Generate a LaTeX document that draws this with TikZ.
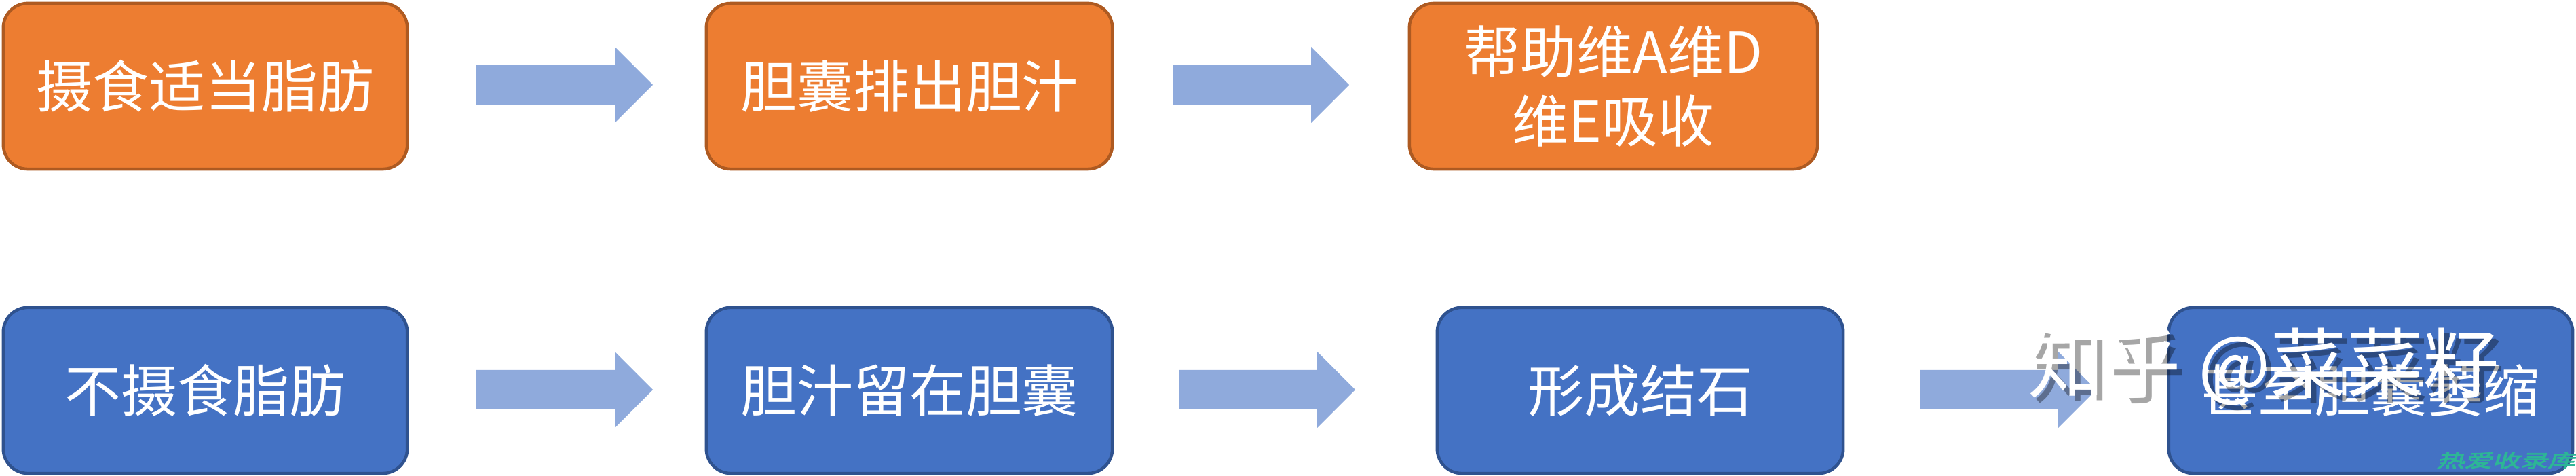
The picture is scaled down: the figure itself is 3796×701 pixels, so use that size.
\documentclass[tikz,border=0pt]{standalone}
\usepackage{fontspec}
\newfontfamily\cjk{Noto Sans CJK SC}
\newfontfamily\cjkslant{Noto Sans CJK SC}[FakeSlant=0.18,FakeBold=3]
\definecolor{orfill}{HTML}{ED7D31}
\definecolor{ordraw}{HTML}{AE5A21}
\definecolor{blfill}{HTML}{4472C4}
\definecolor{bldraw}{HTML}{2F528F}
\definecolor{arrc}{HTML}{8FAADC}
\definecolor{wmgreen}{HTML}{2DB596}
\newcommand\blockarrow[3]{%
  \fill[arrc] (#1,#3-29) -- (#2-56,#3-29) -- (#2-56,#3-56) -- (#2,#3)
    -- (#2-56,#3+56) -- (#2-56,#3+29) -- (#1,#3+29) -- cycle;}
\tikzset{
  box/.style={rounded corners=0.36cm, line width=0.045cm, minimum height=2.44cm,
    align=center, text=white, inner sep=0pt,
    font=\cjk\fontsize{23.6pt}{29pt}\selectfont},
  obox/.style={box, fill=orfill, draw=ordraw},
  bbox/.style={box, fill=blfill, draw=bldraw},
  wmark/.style={inner sep=0pt, font=\cjk\fontsize{32pt}{36pt}\selectfont},
}
\begin{document}
\begin{tikzpicture}[x=0.01cm,y=-0.01cm]
\useasboundingbox (0,0) rectangle (3796,701);
% row 1
\node[obox, minimum width=5.95cm] (a1) at (302.5,127) {摄食适当脂肪};
\node[obox, minimum width=5.98cm] (a2) at (1340,127) {胆囊排出胆汁};
\node[obox, minimum width=6.01cm] (a3) at (2377.5,127) {帮助维A维D\\维E吸收};
% row 2
\node[bbox, minimum width=5.95cm] (b1) at (302.5,575) {不摄食脂肪};
\node[bbox, minimum width=5.98cm] (b2) at (1340,575) {胆汁留在胆囊};
\node[bbox, minimum width=5.98cm] (b3) at (2417,575) {形成结石};
\node[bbox, minimum width=5.95cm] (b4) at (3493.5,575) {甚至胆囊萎缩};
% arrows
\blockarrow{702}{962}{125}
\blockarrow{1729}{1988}{125}
\blockarrow{702}{962}{574}
\blockarrow{1738}{1997}{574}
\blockarrow{2830}{3089}{574}
% watermark
\node[wmark, text=black, opacity=0.35] (wms) at (3344,548) {知乎 @菜菜籽};
\node[wmark, text=white] (wm) at (3336,540) {知乎 @菜菜籽};
\node[text=wmgreen, font=\cjkslant\fontsize{7.5pt}{8pt}\selectfont, inner sep=0pt] (wm2) at (3693,678) {\scalebox{1.55}[1]{热爱收录库}};
\end{tikzpicture}
\end{document}
